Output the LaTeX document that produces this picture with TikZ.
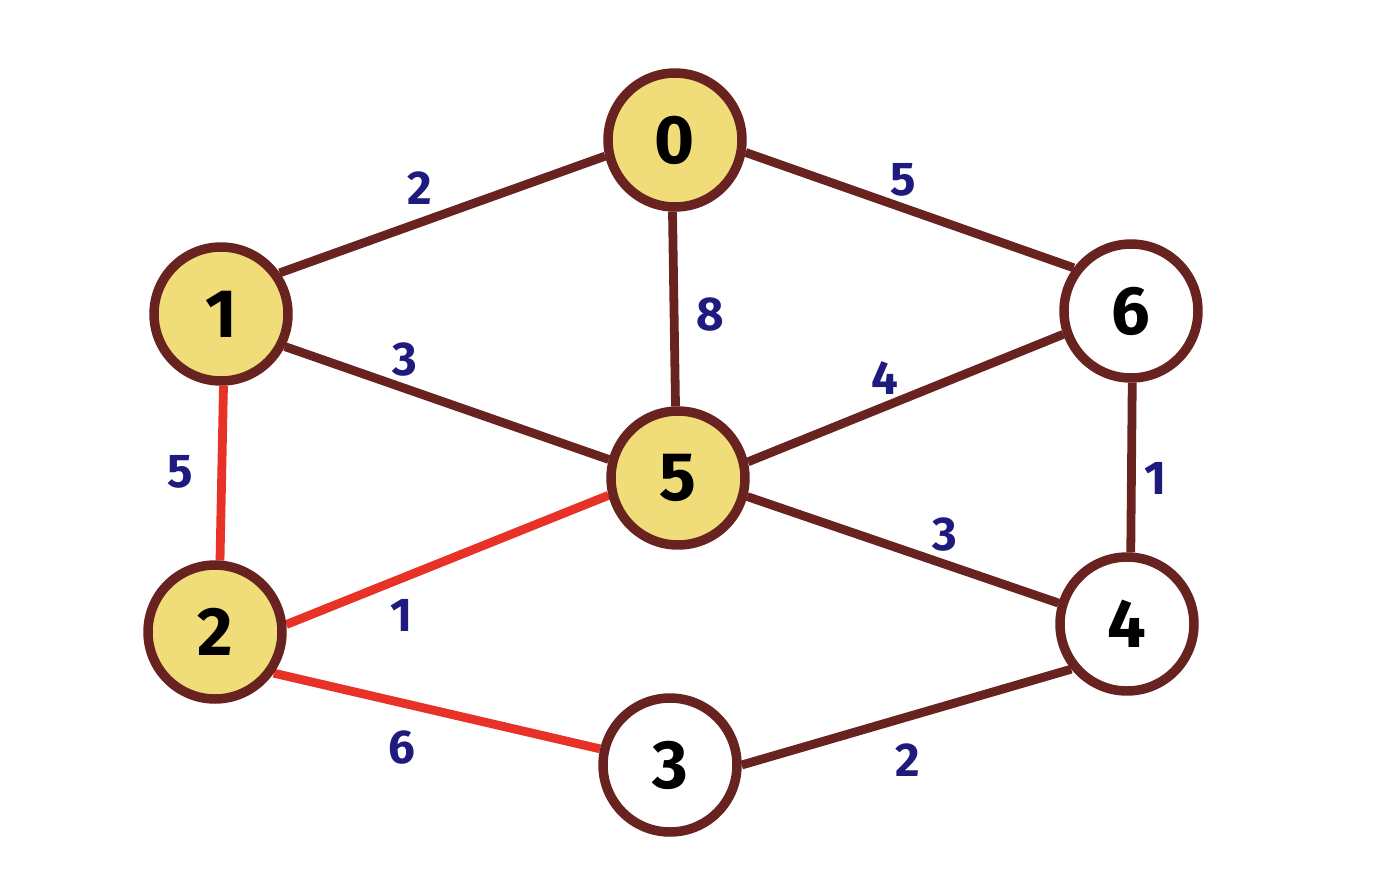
\documentclass[tikz,border=0pt]{standalone}
\usepackage{fontspec}
\setmainfont{Fira Sans}
\usetikzlibrary{backgrounds}
\definecolor{edgebrown}{RGB}{104,34,32}
\definecolor{nodefill}{RGB}{240,220,120}
\definecolor{hired}{RGB}{232,50,40}
\definecolor{lblblue}{RGB}{30,26,126}
\tikzset{
  vert/.style={circle, draw=edgebrown, line width=5.4pt, minimum size=2.68cm, inner sep=0pt, font=\fontsize{39}{42}\selectfont\bfseries, text=black},
  visited/.style={vert, fill=nodefill},
  plain/.style={vert, fill=white},
  edg/.style={draw=edgebrown, line width=5pt},
  redg/.style={draw=hired, line width=5pt},
  wt/.style={text=lblblue, font=\fontsize{27}{30}\selectfont\bfseries, inner sep=0pt}
}
\begin{document}
\begin{tikzpicture}[x=0.02cm,y=-0.02cm]
\useasboundingbox (0,0) rectangle (1379,894);
\node[visited] (n0) at (675,140) {0};
\node[visited] (n1) at (221,314) {1};
\node[visited] (n2) at (215,632) {2};
\node[visited] (n5) at (678,478) {5};
\node[plain] (n6) at (1131,311) {6};
\node[plain] (n4) at (1127,624) {4};
\node[plain] (n3) at (670,765) {3};
\begin{pgfonlayer}{background}
\fill[white] (0,0) rectangle (1379,894);
\draw[edg] (n0.193.6) -- (n1.35.6);
\draw[edg] (n0.350) -- (n6.143.3);
\draw[edg] (n0.268) -- (n5.92);
\draw[edg] (n1.333.4) -- (n5.165.2);
\draw[edg] (n5.13.4) -- (n6.199.7);
\draw[edg] (n6.271) -- (n4.87);
\draw[edg] (n5.345.8) -- (n4.163.3);
\draw[edg] (n3.0) -- (n4.219);
\draw[redg] (n1.272) -- (n2.86);
\draw[redg] (n2.6) -- (n5.194);
\draw[redg] (n2.325.4) -- (n3.167.4);
\end{pgfonlayer}
\node[wt] (w01) at (420,188) {2};
\node[wt] (w06) at (903,180) {5};
\node[wt] (w05) at (710,315) {8};
\node[wt] (w15) at (405,360) {3};
\node[wt] (w56) at (885,378) {4};
\node[wt] (w12) at (180,472) {5};
\node[wt] (w64) at (1155,478) {1};
\node[wt] (w54) at (945,535) {3};
\node[wt] (w25) at (402,615) {1};
\node[wt] (w23) at (402,748) {6};
\node[wt] (w34) at (908,760) {2};
\end{tikzpicture}
\end{document}
